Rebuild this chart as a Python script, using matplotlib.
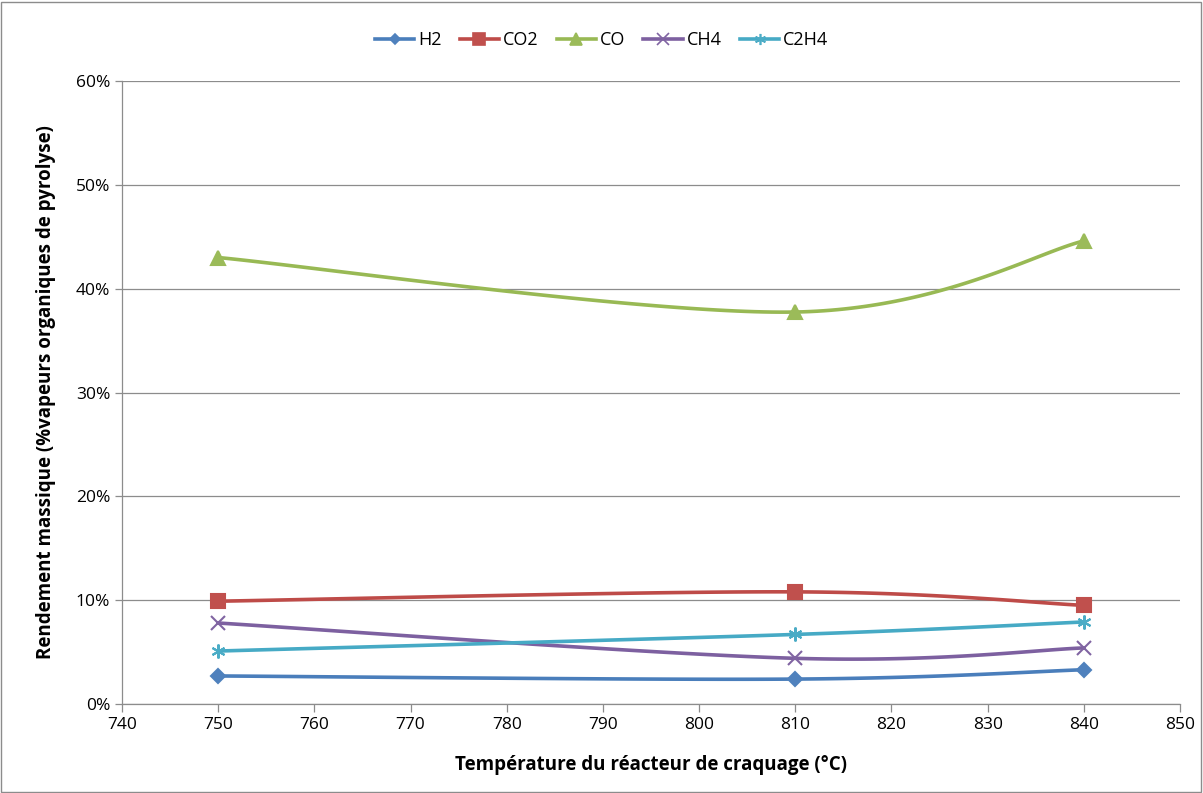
import numpy as np
import matplotlib
matplotlib.use("Agg")
import matplotlib.pyplot as plt
from matplotlib.patches import Rectangle

plt.rcParams["font.family"] = ["Open Sans", "DejaVu Sans"]

# data
temperatures = [750, 810, 840]
h2 = [2.7, 2.4, 3.3]
co2 = [9.9, 10.8, 9.5]
co = [43.0, 37.75, 44.6]
ch4 = [7.8, 4.4, 5.4]
c2h4 = [5.1, 6.7, 7.9]

series_names = ["H2", "CO2", "CO", "CH4", "C2H4"]
series_values = [h2, co2, co, ch4, c2h4]
line_colors = ["#4A7EBB", "#BE4B48", "#98B954", "#7D60A0", "#46AAC5"]
marker_colors = ["#4F81BD", "#C0504D", "#9BBB59", "#8064A2", "#4BACC6"]
markers = ["D", "s", "^", "x", (6, 2, 0)]
marker_sizes = [7, 10, 10, 10, 10]


def smooth(xs, ys, n=60):
    """Excel-like smoothed line: cubic Bezier through points (Catmull-Rom)."""
    pts = np.column_stack([xs, ys]).astype(float)
    ext = np.vstack([pts[0], pts, pts[-1]])
    out = []
    t = np.linspace(0, 1, n)[:, None]
    for i in range(1, len(ext) - 2):
        p0, p1, p2, p3 = ext[i - 1], ext[i], ext[i + 1], ext[i + 2]
        c1 = p1 + (p2 - p0) / 6
        c2 = p2 - (p3 - p1) / 6
        seg = ((1 - t) ** 3) * p1 + 3 * ((1 - t) ** 2) * t * c1 \
            + 3 * (1 - t) * t ** 2 * c2 + t ** 3 * p2
        out.append(seg)
    curve = np.vstack(out)
    return curve[:, 0], curve[:, 1]


fig = plt.figure(figsize=(12.03, 7.93), dpi=100)
ax = fig.add_axes([122 / 1203, 1 - 704 / 793, (1180 - 122) / 1203, (704 - 81) / 793])

for name, vals, lc, mc, mk, ms in zip(series_names, series_values, line_colors,
                                      marker_colors, markers, marker_sizes):
    sx, sy = smooth(temperatures, vals)
    ax.plot(sx, sy, color=lc, lw=2.6, solid_capstyle="round", zorder=3)
    ax.plot(temperatures, vals, linestyle="none", marker=mk, markersize=ms,
            color=mc, markeredgecolor=mc, markeredgewidth=1.5, zorder=4)
    ax.plot([], [], color=lc, lw=2.6, marker=mk, markersize=ms * 0.8,
            markerfacecolor=mc, markeredgecolor=mc, markeredgewidth=1.2, label=name)

ax.set_xlim(740, 850)
ax.set_ylim(0, 60)
ax.set_xticks(np.arange(740, 851, 10))
ax.set_yticks(np.arange(0, 61, 10))
ax.set_yticklabels([f"{v}%" for v in range(0, 61, 10)])
ax.grid(axis="y", color="#8C8C8C", lw=0.9)
ax.set_axisbelow(True)
for s in ["top", "right"]:
    ax.spines[s].set_visible(False)
for s in ["left", "bottom"]:
    ax.spines[s].set_color("#8C8C8C")
    ax.spines[s].set_linewidth(0.9)
ax.tick_params(axis="both", labelsize=12.5, color="#8C8C8C", length=6, width=0.9,
               labelcolor="black")
ax.tick_params(axis="y", length=5)

ax.set_xlabel("Température du réacteur de craquage (°C)", fontsize=13.5,
              fontweight="bold", labelpad=16)
ax.set_ylabel("Rendement massique (%vapeurs organiques de pyrolyse)", fontsize=13.5,
              fontweight="bold", labelpad=14)

fig.legend(loc="center", bbox_to_anchor=(0.5, 1 - 40 / 793), ncol=5, frameon=False,
           fontsize=13, handlelength=2.2, columnspacing=1.0, handletextpad=0.2)

fig.patches.append(Rectangle((0.001, 0.001), 0.997, 0.997, transform=fig.transFigure,
                             fill=False, edgecolor="#8C8C8C", lw=1))

fig.savefig("out.png", dpi=100, facecolor="white")
